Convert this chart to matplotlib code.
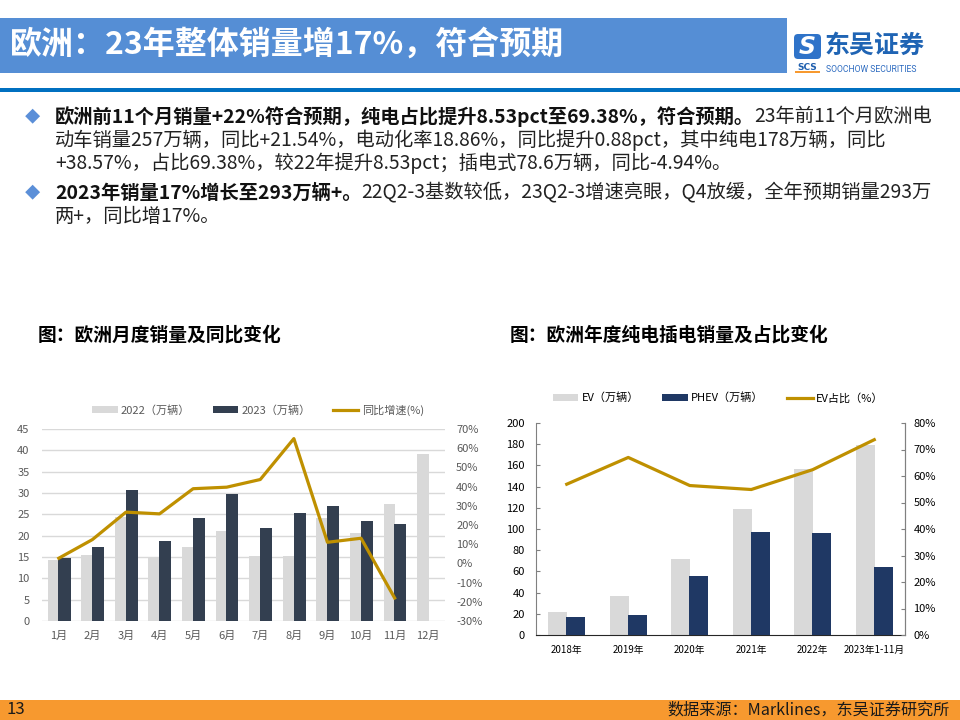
"""
Europe EV monthly / yearly sales slide (欧洲：23年整体销量增17%)
"""

### Import modules
import numpy as np
import matplotlib
matplotlib.use('Agg')
import matplotlib.pyplot as plt
import matplotlib.patches as mpatches
from matplotlib.ticker import PercentFormatter

plt.rcParams['font.family'] = ['Noto Sans CJK SC', 'DejaVu Sans']
plt.rcParams['axes.unicode_minus'] = False

### Data - left chart (monthly, 万辆)
months = ['1月', '2月', '3月', '4月', '5月', '6月',
          '7月', '8月', '9月', '10月', '11月', '12月']
sales2022 = [14.3, 15.4, 24.3, 14.9, 17.3, 21.1, 15.2, 15.3, 24.2, 20.7, 27.5, 39.1]
sales2023 = [14.7, 17.4, 30.8, 18.8, 24.1, 29.7, 21.8, 25.3, 26.9, 23.5, 22.7, np.nan]
yoy = [2.7, 12.4, 26.7, 25.8, 38.9, 39.7, 43.7, 65.0, 11.0, 13.1, -18.0]

### Data - right chart (yearly, 万辆)
years = ['2018年', '2019年', '2020年', '2021年', '2022年', '2023年1-11月']
ev = [21.6, 36.7, 72.1, 118.8, 156.4, 179.3]
phev = [16.6, 18.5, 55.5, 97.5, 95.9, 64.3]
evshare = [56.9, 67.0, 56.4, 54.9, 62.4, 73.7]

### Colours
c22 = '#d9d9d9'
c23 = '#333f50'
cnavy = '#1f3864'
cgold = '#bf9000'
cgrey = '#595959'

W, H = 960, 720
fig = plt.figure(figsize=(9.6, 7.2), dpi=100)

### Background axes in pixel coordinates
bg = fig.add_axes([0, 0, 1, 1])
bg.set_xlim(0, W)
bg.set_ylim(H, 0)
bg.axis('off')

def px_axes(x0, y0, x1, y1):
    return fig.add_axes([x0/W, 1 - y1/H, (x1 - x0)/W, (y1 - y0)/H])

### Header
bg.add_patch(mpatches.Rectangle((0, 18), 787, 55, color='#558ed5', lw=0))
bg.text(10, 45, '欧洲：23年整体销量增17%，符合预期', color='white',
        fontsize=23, fontweight='bold', va='center')
bg.add_patch(mpatches.Rectangle((0, 88), W, 4, color='#0070c0', lw=0))

### Logo
bg.add_patch(mpatches.FancyBboxPatch((794, 34), 27, 25, boxstyle='round,pad=0,rounding_size=4',
                                     color='#2f73c9', lw=0))
bg.text(807.5, 46.5, 'S', color='white', fontsize=17, fontweight='bold',
        style='italic', ha='center', va='center', family='DejaVu Sans')
bg.text(807.5, 67, 'SCS', color='#1f5fae', fontsize=6.5, fontweight='bold',
        ha='center', va='center', family='DejaVu Sans')
bg.add_patch(mpatches.Rectangle((795, 71), 25, 1.5, color='#f7992f', lw=0))
bg.text(825, 46, '东吴证券', color='#1f64b4', fontsize=18, fontweight='bold', va='center')
bg.text(826, 69, 'SOOCHOW SECURITIES', color='#2d6bc0', fontsize=6.2, va='center',
        family='Roboto')

### Bullet text
fs = 13.9
def rich_line(x, y, bold, normal):
    t = bg.text(x, y, bold, fontsize=fs, fontweight='bold', color='#111111', va='center')
    bg.annotate(normal, xy=(1, 0), xycoords=t, fontsize=fs, color='#222222',
                va='bottom', ha='left')

for yb in (117, 193):
    bg.text(32, yb, '◆', color='#5b8fd8', fontsize=11, ha='center', va='center')

rich_line(55, 117, '欧洲前11个月销量+22%符合预期，纯电占比提升8.53pct至69.38%，符合预期。',
          '23年前11个月欧洲电')
bg.text(55, 140, '动车销量257万辆，同比+21.54%，电动化率18.86%，同比提升0.88pct，其中纯电178万辆，同比',
        fontsize=fs, color='#222222', va='center')
bg.text(55, 163, '+38.57%，占比69.38%，较22年提升8.53pct；插电式78.6万辆，同比-4.94%。',
        fontsize=fs, color='#222222', va='center')
rich_line(55, 193, '2023年销量17%增长至293万辆+。',
          '22Q2-3基数较低，23Q2-3增速亮眼，Q4放缓，全年预期销量293万')
bg.text(55, 216, '两+，同比增17%。', fontsize=fs, color='#222222', va='center')

### Chart titles
bg.text(38, 335, '图：欧洲月度销量及同比变化', fontsize=13.5, fontweight='bold', va='center')
bg.text(510, 335, '图：欧洲年度纯电插电销量及占比变化', fontsize=13.5, fontweight='bold', va='center')

### Footer
bg.add_patch(mpatches.Rectangle((0, 700), W, 20, color='#f7992f', lw=0))
bg.text(6, 710, '13', fontsize=12, va='center', color='#1a1a1a')
bg.text(950, 710, '数据来源：Marklines，东吴证券研究所', fontsize=11.6, va='center',
        ha='right', color='#1a1a1a')

###############################################################################
### Left chart: monthly sales
ax1 = px_axes(42, 429, 445, 621)
x = np.arange(len(months))
ax1.bar(x - 0.16, sales2022, width=0.34, color=c22, label='2022（万辆）', zorder=2)
ax1.bar(x + 0.17, sales2023, width=0.36, color=c23, label='2023（万辆）', zorder=3)
ax1.set_ylim(0, 45)
ax1.set_xlim(-0.5, 11.5)
ax1.set_yticks(np.arange(0, 46, 5))
ax1.yaxis.grid(True, color=c22, lw=1)
ax1.set_axisbelow(True)
for s in ax1.spines.values():
    s.set_visible(False)
ax1.set_xticks(x)
ax1.set_xticklabels(months)
ax1.tick_params(axis='both', length=0, labelsize=8, labelcolor=cgrey)
ax1.tick_params(axis='y', pad=9)
ax1.tick_params(axis='x', pad=7)

ax1r = ax1.twinx()
ax1r.plot(x[:len(yoy)], yoy, color=cgold, lw=2.3, label='同比增速(%)', zorder=4)
ax1r.set_ylim(-30, 70)
ax1r.set_yticks(np.arange(-30, 71, 10))
ax1r.yaxis.set_major_formatter(PercentFormatter(decimals=0))
ax1r.tick_params(axis='y', length=0, labelsize=8, labelcolor=cgrey, pad=8)
for s in ax1r.spines.values():
    s.set_visible(False)

h1, l1 = ax1.get_legend_handles_labels()
h2, l2 = ax1r.get_legend_handles_labels()
leg = ax1.legend(h1 + h2, l1 + l2, ncol=3, frameon=False, fontsize=8,
                 loc='center', bbox_to_anchor=(258/W, 1 - 410/H), bbox_transform=fig.transFigure,
                 handlelength=2.3, handleheight=0.6, handletextpad=0.3, columnspacing=2.0)
for t in leg.get_texts():
    t.set_color(cgrey)

###############################################################################
### Right chart: yearly EV / PHEV
ax2 = px_axes(536, 423, 905, 635)
xy = np.arange(len(years))
ax2.bar(xy - 0.145, ev, width=0.31, color=c22, label='EV（万辆）', zorder=2)
ax2.bar(xy + 0.145, phev, width=0.31, color=cnavy, label='PHEV（万辆）', zorder=3)
ax2.set_ylim(0, 200)
ax2.set_xlim(-0.5, 5.5)
ax2.set_yticks(np.arange(0, 201, 20))
ax2.set_xticks(xy)
ax2.set_xticklabels(years)
ax2.spines['top'].set_visible(False)
ax2.spines['left'].set_color('#808080')
ax2.spines['right'].set_color('#808080')
ax2.spines['bottom'].set_color('#262626')
ax2.tick_params(axis='y', direction='in', length=3, color='#808080', labelsize=8, pad=8)
ax2.tick_params(axis='x', length=0, labelsize=7, pad=7)

ax2r = ax2.twinx()
ax2r.plot(xy, evshare, color=cgold, lw=2.3, label='EV占比（%）', zorder=4)
ax2r.set_ylim(0, 80)
ax2r.set_yticks(np.arange(0, 81, 10))
ax2r.yaxis.set_major_formatter(PercentFormatter(decimals=0))
ax2r.spines['top'].set_visible(False)
ax2r.spines['right'].set_color('#808080')
ax2r.spines['left'].set_visible(False)
ax2r.spines['bottom'].set_visible(False)
ax2r.tick_params(axis='y', direction='in', length=3, color='#808080', labelsize=8, pad=6)

h1, l1 = ax2.get_legend_handles_labels()
h2, l2 = ax2r.get_legend_handles_labels()
ax2.legend(h1 + h2, l1 + l2, ncol=3, frameon=False, fontsize=8,
           loc='center', bbox_to_anchor=(718/W, 1 - 398/H), bbox_transform=fig.transFigure,
           handlelength=2.3, handleheight=0.6, handletextpad=0.3, columnspacing=2.1)

plt.savefig('out.png', dpi=100)
